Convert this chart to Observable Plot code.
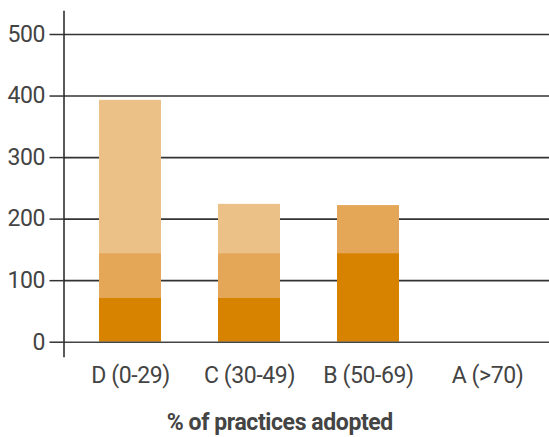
<!DOCTYPE html>
<html>
<head>
<meta charset="utf-8">
<script src="https://cdn.jsdelivr.net/npm/d3@7"></script>
<script src="https://cdn.jsdelivr.net/npm/@observablehq/plot@0.6"></script>
<style>
  html, body { margin: 0; padding: 0; background: #fff; }
</style>
</head>
<body>
<div id="chart"></div>
<script>
const categories = ["D (0-29)", "C (30-49)", "B (50-69)", "A (>70)"];
const seriesNames = ["dark", "medium", "light"];
const darkValues = [71, 71, 144, 0];
const mediumValues = [73, 73, 78, 0];
const lightValues = [249, 80, 0, 0];
const yTicks = [0, 100, 200, 300, 400, 500];
const xLabel = "% of practices adopted";
const colors = ["#d88300", "#e4a657", "#ecc187"];

const valuesBySeries = [darkValues, mediumValues, lightValues];
const rows = [];
categories.forEach((c, i) => {
  seriesNames.forEach((s, j) => rows.push({category: c, series: s, value: valuesBySeries[j][i]}));
});

const chart = Plot.plot({
  width: 549,
  height: 437,
  marginLeft: 63.5,
  marginRight: 0,
  marginTop: 11,
  marginBottom: 81,
  style: {fontFamily: "Roboto, sans-serif", fontSize: "23px", letterSpacing: "-0.4px", color: "#444", background: "#fff"},
  x: {domain: categories, range: [69, 549], paddingInner: 0.475, paddingOuter: 0.24},
  y: {domain: [0, 500], range: [341.7, 34]},
  color: {domain: seriesNames, range: colors},
  marks: [
    Plot.ruleY(yTicks.filter(d => d > 0), {stroke: "#333", strokeWidth: 1.6}),
    Plot.barY(rows, {x: "category", y: "value", fill: "series"}),
    Plot.ruleY([0], {stroke: "#444", strokeWidth: 1.6}),
    Plot.frame({anchor: "left", stroke: "#222", strokeWidth: 1.5}),
    Plot.axisY({ticks: yTicks, tickSize: 14, tickPadding: 5, label: null, stroke: "#333", strokeWidth: 1.5, fill: "#444"}),
    Plot.axisX({tickSize: 0, tickPadding: 10, label: null, fill: "#444"}),
    Plot.text([xLabel], {frameAnchor: "bottom", dx: -27, dy: 66, lineAnchor: "middle", fontWeight: "bold", fontSize: 23, fill: "#444"})
  ]
});
document.getElementById("chart").appendChild(chart);
</script>
</body>
</html>
